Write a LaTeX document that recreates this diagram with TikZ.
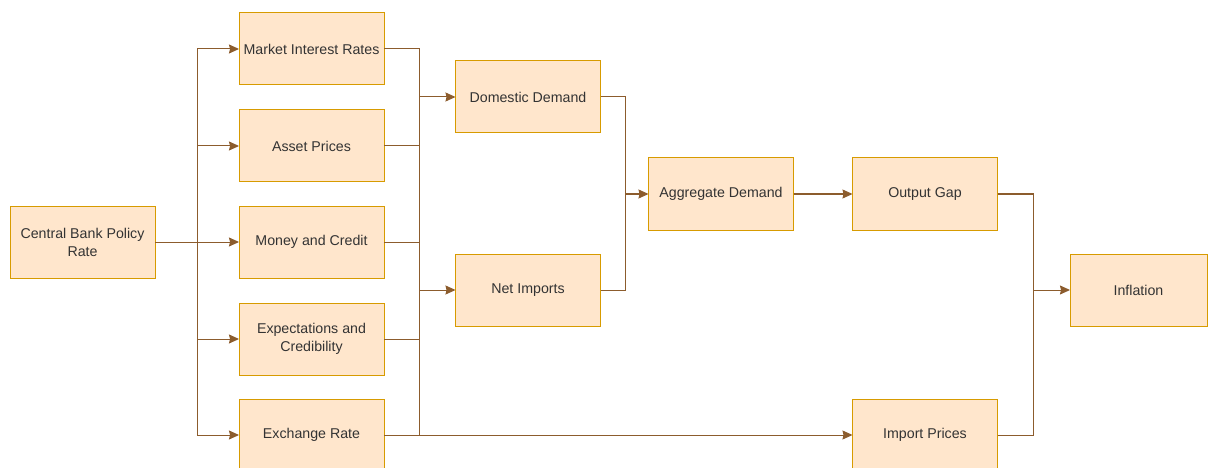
\documentclass[tikz,border=0pt]{standalone}
\usepackage{fontspec}
\setmainfont{Liberation Sans}
\usetikzlibrary{arrows.meta}

\definecolor{boxfill}{RGB}{255,230,204}
\definecolor{boxline}{RGB}{215,155,0}
\definecolor{wire}{RGB}{140,92,45}
\definecolor{txt}{RGB}{51,51,51}

\tikzset{
    chan/.style={draw=boxline, line width=1pt, fill=boxfill, minimum width=145pt, minimum height=72pt,
                 inner sep=2pt, outer sep=0pt, align=center, text=txt, font=\fontsize{14.2}{18}\selectfont},
    wireline/.style={draw=wire, line width=1pt}
}

\begin{document}
\begin{tikzpicture}[x=1pt, y=-1pt, >={Stealth[length=10pt,width=9pt,inset=1pt]}]
                \useasboundingbox (0,0) rectangle (1208,468);

                \node[chan] (CB) at (82.5,242) {Central Bank Policy\\Rate};
                \node[chan] (MIR) at (311.5,49) {Market Interest Rates};
                \node[chan] (AP) at (311.5,146) {Asset Prices};
                \node[chan] (MC) at (311.5,242) {Money and Credit};
                \node[chan] (EC) at (311.5,339) {Expectations and\\Credibility};
                \node[chan] (ER) at (311.5,435) {Exchange Rate};
                \node[chan] (DD) at (528,97) {Domestic Demand};
                \node[chan] (NI) at (528,290) {Net Imports};
                \node[chan] (AD) at (721,194) {Aggregate Demand};
                \node[chan] (OG) at (925,194) {Output Gap};
                \node[chan] (IP) at (925,435) {Import Prices};
                \node[chan, minimum width=137pt] (INF) at (1138.5,290) {Inflation};

                \coordinate (S) at (197,242);
                \coordinate (J1) at (419,97);
                \coordinate (J2) at (419,290);
                \coordinate (J3) at (625,194);
                \coordinate (J4) at (1033,290);

                \begin{scope}[wireline]
                \draw[->] (CB) to (MC); \draw[->] (S) |- (MIR); \draw[->] (S) |- (AP); \draw[->] (S) |- (EC); \draw[->] (S) |- (ER);
                \draw (MIR) -| (J1); \draw (AP) -| (J1); \draw (MC) -| (J1); \draw[->] (J1) to (DD);
                \draw (MC) -| (J2); \draw (EC) -| (J2); \draw (ER) -| (J2); \draw[->] (J2) to (NI);
                \draw[->] (ER) to (IP);
                \draw (DD) -| (J3); \draw (NI) -| (J3); \draw[->] (J3) to (AD); \draw[->] (AD) to (OG);
                \draw (OG) -| (J4); \draw (IP) -| (J4); \draw[->] (J4) to (INF);
                \end{scope}
            \end{tikzpicture}
\end{document}
